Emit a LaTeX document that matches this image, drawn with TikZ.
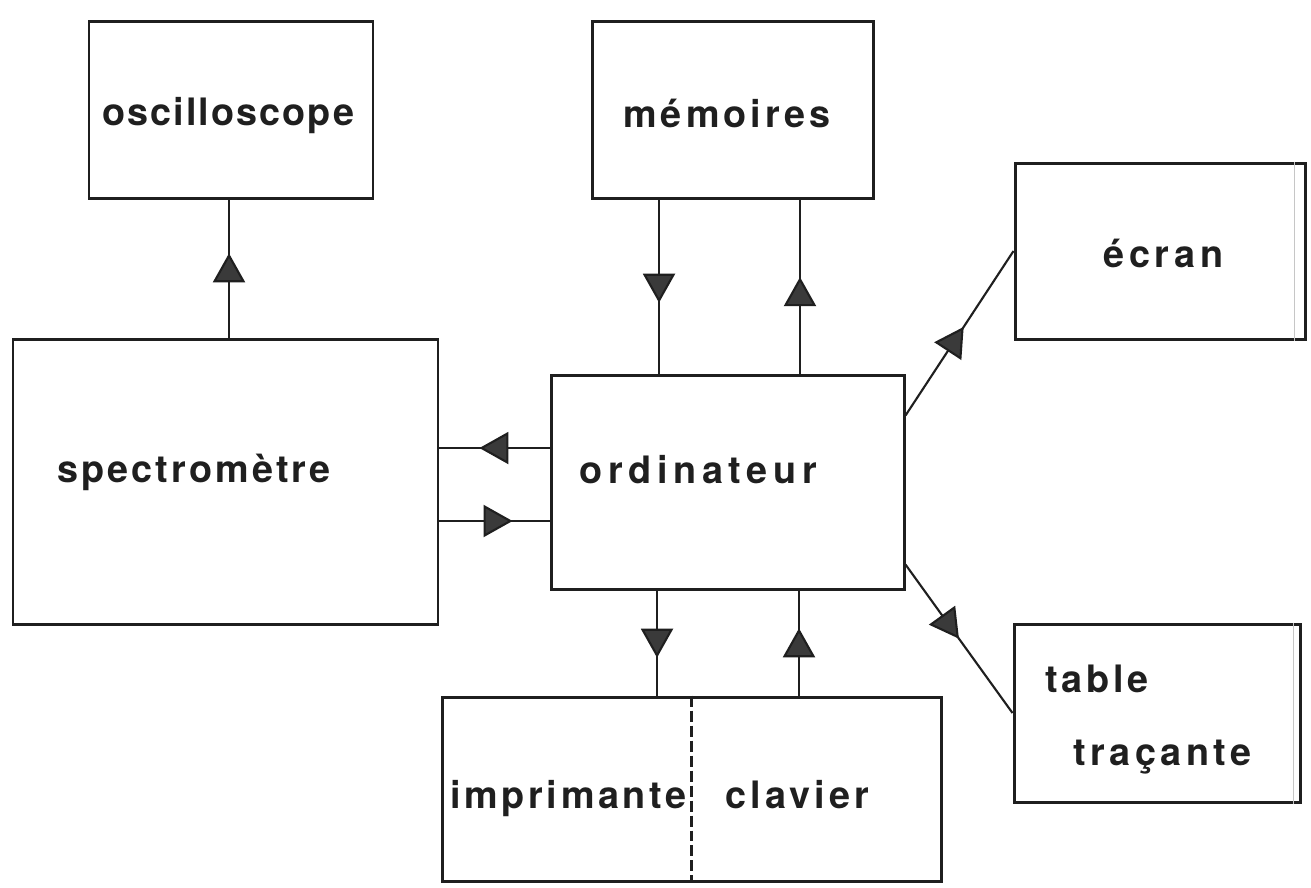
\documentclass[tikz,border=0pt]{standalone}
\usepackage{fontspec}
\setmainfont{TeX Gyre Heros}
\usetikzlibrary{arrows.meta,decorations.markings,fit}
\definecolor{ink}{HTML}{1F1F1F}
\definecolor{headfill}{HTML}{3A3A3A}
\tikzset{
  box/.style={draw=ink, line width=1.7pt, inner sep=0pt, rectangle},
  conn/.style={draw=ink, line width=1.2pt},
  mid/.style={postaction={decorate}, decoration={markings,
      mark=at position #1 with {\arrow{Triangle[length=5.8mm,width=6.4mm,fill=headfill]}}}},
  lbl/.style={text=ink, inner sep=0pt, anchor=base west,
      font=\fontsize{21.5}{25}\selectfont\bfseries\addfontfeatures{LetterSpace=#1}},
  faint/.style={draw=gray!45, line width=0.5pt},
  divider/.style={draw=ink, line width=1.4pt, dash pattern=on 0.22cm off 0.08cm}
}
\begin{document}
\begin{tikzpicture}[x=0.02cm, y=-0.02cm]
\fill[white] (0,0) rectangle (1311,887);
\useasboundingbox (0,0) rectangle (1311,887);

% boxes
\node[box, fit={(89,21) (373,198)}] (osc) {};
\node[box, fit={(592,21) (873,198)}] (mem) {};
\node[box, fit={(1015,163) (1305,339)}] (ecr) {};
\node[box, fit={(13,339) (438,624)}] (spec) {};
\node[box, fit={(551,375) (904,589)}] (ord) {};
\node[box, fit={(1014,624) (1300,802)}] (tab) {};
\node[box, fit={(442,697) (941,881)}] (imp) {};

% faint inner lines and divider
\draw[faint] ([xshift=-0.24cm]ecr.north east) -- ([xshift=-0.24cm]ecr.south east);
\draw[faint] ([xshift=-0.16cm]tab.north east) -- ([xshift=-0.16cm]tab.south east);
\draw[divider] (imp.north) -- (imp.south);

% labels
\node[lbl=5.5] (tosc) at (102,125) {oscilloscope};
\node[lbl=10.8] (tmem) at (623,127) {mémoires};
\node[lbl=12.5] (tecr) at (1103,267) {écran};
\node[lbl=8.2] (tspec) at (57,482) {spectromètre};
\node[lbl=15] (tord) at (579,483) {ordinateur};
\node[lbl=10] (ttab) at (1045,692) {table};
\node[lbl=11.8] (ttra) at (1073,765) {traçante};
\node[lbl=9.6] (timp) at (450,808) {imprimante};
\node[lbl=10.8] (tcla) at (725,808) {clavier};

% connectors
\coordinate (o1) at ([xshift=-0.04cm]osc.south);
\draw[conn, mid=0.61] (o1 |- spec.north) -- (o1);

\coordinate (m1) at ([xshift=-1.47cm]mem.south);
\coordinate (m2) at ([xshift=1.35cm]mem.south);
\draw[conn, mid=0.593] (m1) -- (m1 |- ord.north);
\draw[conn, mid=0.554] (m2 |- ord.north) -- (m2);

\coordinate (s1) at ([yshift=0.68cm]ord.west);
\coordinate (s2) at ([yshift=-0.78cm]ord.west);
\draw[conn, mid=0.637] (s1) -- (s1 -| spec.east);
\draw[conn, mid=0.664] (s2 -| spec.east) -- (s2);

\coordinate (e1) at ([yshift=-0.84cm]ord.north east);
\draw[conn, mid=0.54] (e1) -- (ecr.west);
\coordinate (t1) at ([yshift=0.52cm]ord.south east);
\draw[conn, mid=0.50] (t1) -- (tab.west);

\coordinate (b1) at ([xshift=-1.41cm]ord.south);
\coordinate (b2) at ([xshift=1.43cm]ord.south);
\draw[conn, mid=0.64] (b1) -- (b1 |- imp.north);
\draw[conn, mid=0.64] (b2 |- imp.north) -- (b2);
\end{tikzpicture}
\end{document}
